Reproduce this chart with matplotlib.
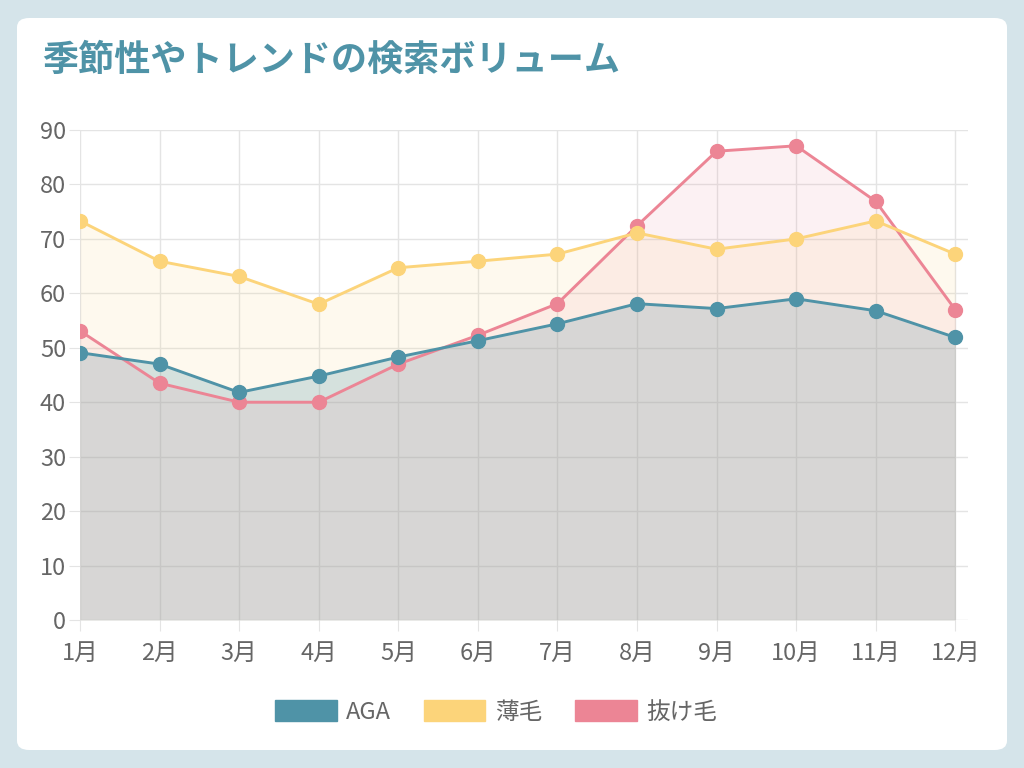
import matplotlib.pyplot as plt
import matplotlib as mpl
from matplotlib.patches import FancyBboxPatch, Patch

months = ["1月", "2月", "3月", "4月", "5月", "6月", "7月", "8月", "9月", "10月", "11月", "12月"]
aga = [49.1, 47.0, 41.8, 44.8, 48.3, 51.3, 54.4, 58.1, 57.2, 59.0, 56.8, 51.9]
usuge = [73.3, 65.9, 63.1, 58.0, 64.7, 65.9, 67.2, 71.1, 68.1, 70.0, 73.3, 67.2]
nukege = [53.1, 43.5, 40.0, 40.0, 47.0, 52.3, 58.1, 72.4, 86.1, 87.1, 76.9, 57.0]
yticks = [0, 10, 20, 30, 40, 50, 60, 70, 80, 90]

c_aga = "#4f93a7"
c_usu = "#fcd47a"
c_nuk = "#ec8595"
txt = "#666666"
grid_c = "#e4e4e4"

plt.rcParams['font.family'] = ['Noto Sans CJK JP', 'DejaVu Sans']

fig = plt.figure(figsize=(10.24, 7.68), dpi=100)
fig.patch.set_facecolor("#d5e4ea")

# white card
W, H = 1024, 768
card = FancyBboxPatch((17 / W, 18 / H), 990 / W, 732 / H,
                      boxstyle="round,pad=0,rounding_size=0.012",
                      transform=fig.transFigure, facecolor="white",
                      edgecolor="none", zorder=-5)
fig.patches.append(card)

fig.text(42 / W, 1 - 60 / H, "季節性やトレンドの検索ボリューム", fontsize=26,
         fontweight="bold", color=c_aga, va="center", ha="left")

ax = fig.add_axes([80 / W, 1 - 620 / H, 888 / W, 490 / H])
ax.set_facecolor("none")
x = list(range(len(months)))

# fills (layered like the original)
ax.fill_between(x, 0, usuge, color=c_usu, alpha=0.12, linewidth=0, zorder=1)
ax.fill_between(x, 0, aga, color=c_aga, alpha=0.23, linewidth=0, zorder=2)
ax.fill_between(x, 0, nukege, color=c_nuk, alpha=0.11, linewidth=0, zorder=3)

ax.plot(x, nukege, color=c_nuk, lw=2.1, marker="o", ms=10, zorder=4)
ax.plot(x, usuge, color=c_usu, lw=2.1, marker="o", ms=10, zorder=5)
ax.plot(x, aga, color=c_aga, lw=2.1, marker="o", ms=10, zorder=6)

ax.set_xlim(0, 11.16)
ax.set_ylim(0, 90)
ax.set_xticks(x)
ax.set_xticklabels(months)
ax.set_yticks(yticks)
ax.grid(True, color=grid_c, lw=1)
ax.set_axisbelow(True)
for s in ax.spines.values():
    s.set_visible(False)
ax.tick_params(axis="both", length=8, color=grid_c, labelcolor=txt, labelsize=17, pad=2)
ax.tick_params(axis="x", pad=8)

handles = [Patch(facecolor=c_aga, edgecolor=c_aga, label="AGA"),
           Patch(facecolor=c_usu, edgecolor=c_usu, label="薄毛"),
           Patch(facecolor=c_nuk, edgecolor=c_nuk, label="抜け毛")]
leg = fig.legend(handles=handles, loc="center", bbox_to_anchor=(496 / W, 1 - 712 / H),
                 ncol=3, frameon=False, fontsize=17, handlelength=2.6, handleheight=0.95,
                 handletextpad=0.4, columnspacing=1.4)
for t in leg.get_texts():
    t.set_color(txt)

fig.savefig("out.png", dpi=100, facecolor=fig.get_facecolor())
